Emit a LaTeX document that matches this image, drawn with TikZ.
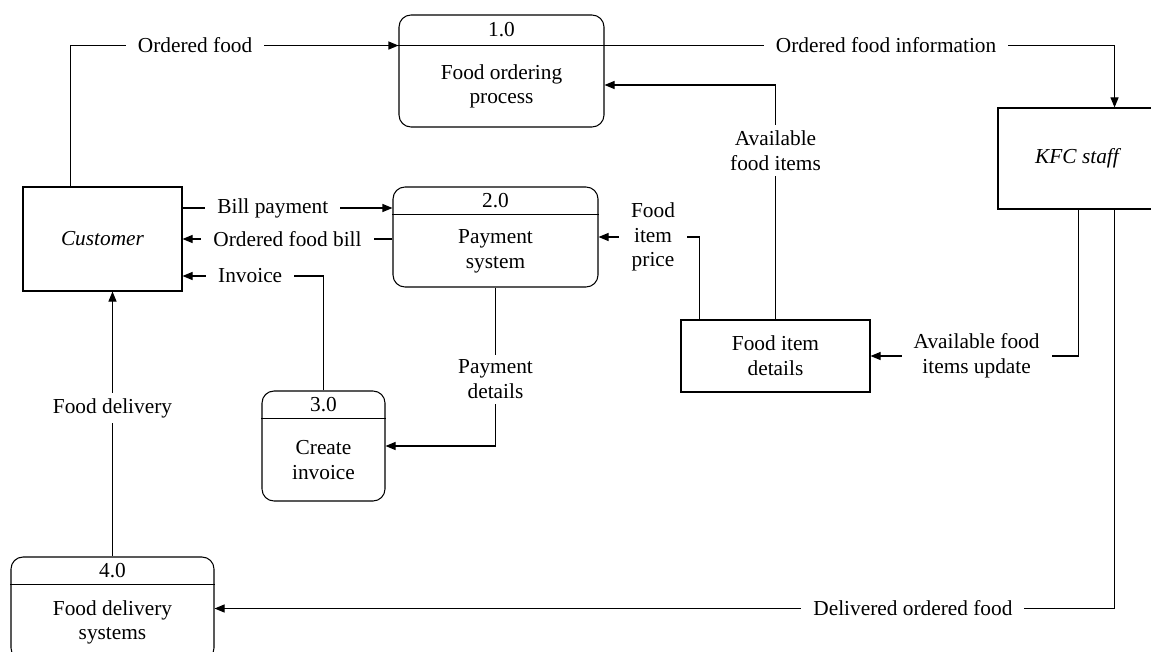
\documentclass[tikz,border=0pt]{standalone}
\usepackage{fontspec}
\setmainfont{Liberation Serif}
\usetikzlibrary{arrows.meta, calc}

\begin{document}
\begin{tikzpicture}[x=0.75pt, y=-0.75pt, line width=0.8pt,
  font=\fontsize{16}{18.5}\selectfont,
  every node/.style={align=center},
  proc/.style={draw, rounded corners=9pt, inner sep=0pt},
  ent/.style={draw, inner sep=0pt},
  numbox/.style={inner sep=0pt, minimum height=#1},
  flow/.style={-{Triangle[length=7.5pt,width=6pt]}},
  lbl/.style={fill=white, inner xsep=9pt, inner ysep=4pt}]
\useasboundingbox (0,0) rectangle (1151,652);

% external entities and data store
\node[ent, minimum width=119.25pt, minimum height=78pt] (cust) at (102.5,239) {\itshape Customer};
\node[ent, minimum width=118.5pt, minimum height=75.75pt] (kfc) at (1077,158.5) {\itshape KFC staff};
\node[ent, minimum width=141.75pt, minimum height=54pt] (fid) at (775.5,356) {Food item\\details};

% processes
\node[proc, minimum width=153.75pt, minimum height=84pt] (p1) at (501.5,71) {};
\node[numbox=22.5pt, anchor=north] (p1n) at (p1.north) {1.0};
\draw (p1.west |- p1n.south) -- (p1.east |- p1n.south);
\node (p1t) at ($(p1n.south)!0.5!(p1.south)$) {Food ordering\\process};

\node[proc, minimum width=153.75pt, minimum height=75pt] (p2) at (495.5,237) {};
\node[numbox=20.25pt, anchor=north] (p2n) at (p2.north) {2.0};
\draw (p2.west |- p2n.south) -- (p2.east |- p2n.south);
\node (p2t) at ($(p2n.south)!0.5!(p2.south)$) {Payment\\system};

\node[proc, minimum width=92.25pt, minimum height=82.5pt] (p3) at (323.5,446) {};
\node[numbox=20.25pt, anchor=north] (p3n) at (p3.north) {3.0};
\draw (p3.west |- p3n.south) -- (p3.east |- p3n.south);
\node (p3t) at ($(p3n.south)!0.5!(p3.south)$) {Create\\invoice};

\node[proc, minimum width=152.25pt, minimum height=77.25pt] (p4) at (112.5,608.5) {};
\node[numbox=20.25pt, anchor=north] (p4n) at (p4.north) {4.0};
\draw (p4.west |- p4n.south) -- (p4.east |- p4n.south);
\node (p4t) at ($(p4n.south)!0.5!(p4.south)$) {Food delivery\\systems};

% data flows
\draw[flow] ([xshift=-24pt]cust.north) |- (p1.west |- p1n.south) node[lbl, pos=0.69] {Ordered food};
\draw[flow] (p1.east |- p1n.south) -| ([xshift=-31.5pt]kfc.north east) node[lbl, pos=0.276] {Ordered food information};
\draw[flow] (fid.north) |- ([yshift=-10.5pt]p1.east) node[lbl, pos=0.36] {Available\\food items};
\draw[flow] ([yshift=23.25pt]cust.east) -- ([yshift=23.25pt]cust.east -| p2.west) node[lbl, pos=0.43] {Bill payment};
\draw[flow] (p2.west |- cust.east) -- (cust.east) node[lbl, midway] {Ordered food bill};
\draw[flow] (p3.north) |- ([yshift=-27.75pt]cust.east) node[lbl, pos=0.76] {Invoice};
\draw[flow] (p2.south) |- (p3.east) node[lbl, pos=0.29] {Payment\\details};
\draw[flow] ([xshift=14.25pt]fid.north west) |- (p2.east) node[lbl, pos=0.73] {Food\\item\\price};
\draw[flow] ([xshift=-58.5pt]kfc.south east) |- (fid.east) node[lbl, pos=0.745] {Available food\\items update};
\draw[flow] ([xshift=-31.5pt]kfc.south east) |- (p4.east) node[lbl, pos=0.612] {Delivered ordered food};
\draw[flow] (p4.north) -- (p4.north |- cust.south) node[lbl, pos=0.56] {Food delivery};
\end{tikzpicture}
\end{document}
